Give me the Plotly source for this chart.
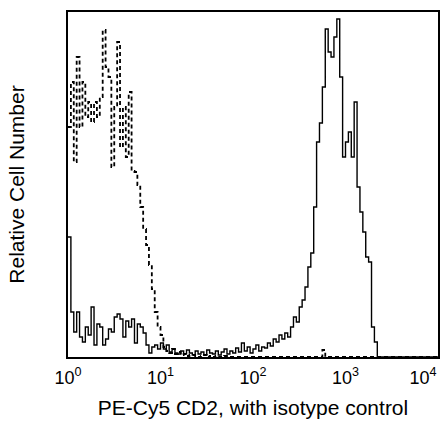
import plotly.graph_objects as go

# channel bins: 32 per decade over 4 decades (bin start exponent = i/32)
bins_per_decade = 32

isotype_counts = [
    230, 275, 195, 300, 230, 275, 240, 255, 235, 255,
    240, 260, 327, 290, 280, 190, 250, 315, 210, 250,
    200, 265, 186, 185, 172, 150, 128, 112, 92, 68,
    45, 30, 22, 10, 6, 4, 8, 3, 5, 2,
    3, 1, 2, 2, 1, 0, 1, 2, 0, 1,
    0, 1, 0, 0, 1, 0, 0, 0, 0, 0,
    0, 0, 0, 0, 0, 0, 0, 0, 0, 0,
    0, 0, 0, 0, 0, 0, 0, 0, 0, 0,
    0, 0, 0, 0, 0, 0, 0, 0, 7, 0,
    0, 0, 0, 0, 0, 0, 0, 0, 0, 0,
    0, 0, 0, 0, 0, 0, 0, 0, 0, 0,
    0, 0, 0, 0, 0, 0, 0, 0, 0, 0,
    0, 0, 0, 0, 0, 0, 0, 0,
]

cd2_counts = [
    120, 45, 25, 45, 20, 15, 30, 22, 50, 12,
    33, 30, 12, 18, 28, 25, 40, 43, 38, 20,
    36, 30, 38, 14, 33, 30, 24, 12, 4, 10,
    12, 8, 14, 8, 12, 5, 8, 4, 3, 6,
    3, 7, 4, 2, 6, 3, 5, 2, 7, 4,
    3, 6, 2, 5, 8, 3, 6, 4, 9, 5,
    14, 6, 10, 4, 8, 12, 6, 10, 9, 14,
    11, 18, 15, 22, 18, 24, 20, 30, 40, 35,
    50, 57, 70, 90, 104, 150, 215, 234, 270, 328,
    305, 300, 320, 338, 280, 200, 215, 225, 200, 255,
    170, 145, 125, 100, 95, 30, 15, 0, 0, 0,
    0, 0, 0, 0, 0, 0, 0, 0, 0, 0,
    0, 0, 0, 0, 0, 0, 0, 0,
]

tick_vals = [1, 10, 100, 1000, 10000]
tick_text = ["10<sup>0</sup>", "10<sup>1</sup>", "10<sup>2</sup>", "10<sup>3</sup>",
             "10<sup>4</sup>&nbsp;&nbsp;&nbsp;&nbsp;&nbsp;&nbsp;"]

x_title = "PE-Cy5 CD2, with isotype control"
y_title = "Relative Cell Number"


def edges(n):
    return [10 ** (i / bins_per_decade) for i in range(n + 1)]


fig = go.Figure()
fig.add_trace(go.Scatter(
    x=edges(len(isotype_counts)), y=isotype_counts + [isotype_counts[-1]],
    mode="lines", line=dict(color="black", width=1.8, dash="4px,3px", shape="hv"),
    showlegend=False, hoverinfo="skip",
))
fig.add_trace(go.Scatter(
    x=edges(len(cd2_counts)), y=cd2_counts + [cd2_counts[-1]],
    mode="lines", line=dict(color="black", width=1.4, shape="hv"),
    showlegend=False, hoverinfo="skip",
))

fig.update_layout(
    width=443, height=422,
    margin=dict(l=68, r=5, t=12, b=65),
    paper_bgcolor="white", plot_bgcolor="white",
    font=dict(family="Liberation Sans, Arial, sans-serif", color="black", size=18),
    xaxis=dict(
        type="log", range=[0, 4], tickvals=tick_vals, ticktext=tick_text,
        showgrid=False, zeroline=False, ticks="", showline=True, mirror=True,
        linecolor="black", linewidth=2, tickfont=dict(size=18),
        ticklabeloverflow="allow", automargin=False, ticklabelstandoff=3,
        title=dict(text=x_title, font=dict(size=21), standoff=14),
    ),
    yaxis=dict(
        range=[0, 345], showticklabels=False, showgrid=False, zeroline=False,
        ticks="", showline=True, mirror=True, linecolor="black", linewidth=2,
        automargin=False,
        title=dict(text=y_title, font=dict(size=21), standoff=36),
    ),
)

fig.write_html(
    "out.html",
    config={"displayModeBar": False},
    post_script="document.body.style.margin='0';document.body.style.overflow='hidden';",
)
